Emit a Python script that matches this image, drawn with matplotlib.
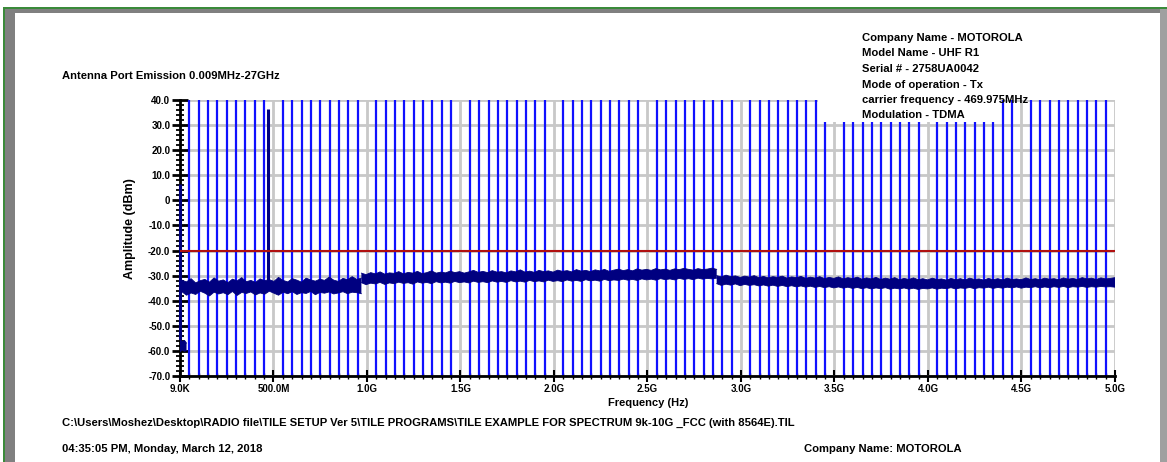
import numpy as np
import matplotlib
matplotlib.use("Agg")
from matplotlib import pyplot as plt
from matplotlib.patches import Rectangle
from matplotlib.ticker import FixedLocator, MultipleLocator

W, H = 1167, 462

plt.rcParams['font.family'] = ['Liberation Sans', 'DejaVu Sans']
plt.rcParams['font.weight'] = 'bold'

# ---- data (frequencies in GHz, levels in dBm) ----
title = "Antenna Port Emission 0.009MHz-27GHz"
info_lines = ["Company Name - MOTOROLA", "Model Name - UHF R1", "Serial # - 2758UA0042",
              "Mode of operation - Tx", "carrier frequency - 469.975MHz", "Modulation - TDMA"]
file_path = r"C:\Users\Moshez\Desktop\RADIO file\TILE SETUP Ver 5\TILE PROGRAMS\TILE EXAMPLE FOR SPECTRUM 9k-10G _FCC (with 8564E).TIL"
time_stamp = "04:35:05 PM, Monday, March 12, 2018"
company = "Company Name: MOTOROLA"

x_ticks = [0.000009, 0.5, 1.0, 1.5, 2.0, 2.5, 3.0, 3.5, 4.0, 4.5, 5.0]
x_tick_labels = ["9.0K", "500.0M", "1.0G", "1.5G", "2.0G", "2.5G", "3.0G", "3.5G", "4.0G", "4.5G", "5.0G"]
y_ticks = [40, 30, 20, 10, 0, -10, -20, -30, -40, -50, -60, -70]
y_tick_labels = ["40.0", "30.0", "20.0", "10.0", "0", "-10.0", "-20.0", "-30.0",
                 "-40.0", "-50.0", "-60.0", "-70.0"]

limit_dbm = -20.0
carrier_freq = 0.469975
carrier_peak = 36.4
start_freq = [0.000009, 0.012, 0.024, 0.035]
start_upper = [-55.2, -56.4, -55.8, -56.9]
start_lower = [-60.4, -59.6, -60.2, -59.8]
start_spike = 6.5

# vertical sweep marks (every 50 MHz between grid lines)
sweep_marks = [0.05, 0.10, 0.15, 0.20, 0.25, 0.30, 0.35, 0.40, 0.45,
               0.55, 0.60, 0.65, 0.70, 0.75, 0.80, 0.85, 0.90, 0.95,
               1.05, 1.10, 1.15, 1.20, 1.25, 1.30, 1.35, 1.40, 1.45,
               1.55, 1.60, 1.65, 1.70, 1.75, 1.80, 1.85, 1.90, 1.95,
               2.05, 2.10, 2.15, 2.20, 2.25, 2.30, 2.35, 2.40, 2.45,
               2.55, 2.60, 2.65, 2.70, 2.75, 2.80, 2.85, 2.90, 2.95,
               3.05, 3.10, 3.15, 3.20, 3.25, 3.30, 3.35, 3.40, 3.45,
               3.55, 3.60, 3.65, 3.70, 3.75, 3.80, 3.85, 3.90, 3.95,
               4.05, 4.10, 4.15, 4.20, 4.25, 4.30, 4.35, 4.40, 4.45,
               4.55, 4.60, 4.65, 4.70, 4.75, 4.80, 4.85, 4.90, 4.95]

# noise floor envelope, segment A (to ~0.97 GHz)
seg_a_freq = np.linspace(0.01, 0.97, 40)
seg_a_upper = [-31.8, -32.5, -31.2, -32.9, -32.0, -31.5, -32.6, -30.9, -32.2, -31.7,
               -32.8, -31.4, -32.1, -30.8, -32.4, -31.9, -32.7, -31.3, -32.0, -31.6,
               -32.3, -30.7, -31.9, -32.5, -31.2, -31.8, -32.6, -31.0, -31.7, -32.2,
               -31.4, -31.9, -30.6, -31.8, -32.3, -31.1, -31.6, -30.4, -31.5, -31.0]
seg_a_lower = [-36.4, -37.8, -36.9, -37.5, -36.2, -37.0, -38.1, -36.6, -37.3, -36.8,
               -37.6, -36.3, -37.9, -36.7, -37.1, -36.5, -37.7, -36.9, -37.4, -36.2,
               -37.0, -37.8, -36.6, -37.2, -36.4, -37.5, -36.8, -37.1, -36.3, -37.6,
               -36.7, -37.0, -36.5, -37.3, -36.9, -36.4, -37.2, -36.6, -36.8, -37.2]

# segment B (0.97 - 2.87 GHz)
seg_b_freq = np.linspace(0.97, 2.87, 77)
seg_b_upper = [-29.0, -29.6, -28.8, -29.3, -28.5, -29.4, -28.9, -29.1, -28.4, -29.3,
               -28.7, -29.0, -28.3, -29.2, -28.8, -28.1, -29.0, -28.6, -28.9, -28.2,
               -28.8, -28.4, -29.0, -28.5, -27.9, -28.7, -28.3, -28.8, -28.0, -28.6,
               -28.4, -28.9, -28.1, -28.5, -27.7, -28.6, -28.2, -28.7, -27.9, -28.4,
               -28.1, -28.6, -27.8, -28.3, -28.0, -28.5, -27.6, -28.2, -27.9, -28.4,
               -27.7, -28.1, -27.5, -28.3, -27.8, -27.4, -28.0, -27.6, -28.1, -27.3,
               -27.8, -27.5, -27.9, -27.2, -27.7, -27.4, -27.9, -27.3, -27.6, -27.1,
               -27.5, -27.8, -27.2, -27.6, -27.4, -27.0, -27.5]
seg_b_lower = [-32.8, -33.6, -33.0, -33.3, -32.7, -33.5, -32.9, -33.2, -32.6, -33.1,
               -32.8, -33.4, -32.5, -33.0, -32.7, -33.2, -32.4, -32.9, -32.6, -33.0,
               -32.3, -32.8, -32.5, -32.9, -32.2, -32.7, -32.4, -32.8, -32.1, -32.6,
               -32.3, -32.7, -32.0, -32.5, -32.2, -32.6, -31.9, -32.4, -32.1, -32.5,
               -31.8, -32.3, -32.0, -32.4, -31.7, -32.2, -31.9, -32.3, -31.6, -32.1,
               -31.8, -32.2, -31.5, -32.0, -31.7, -31.9, -31.4, -31.8, -31.5, -31.9,
               -31.3, -31.7, -31.4, -31.8, -31.2, -31.6, -31.3, -31.7, -31.1, -31.5,
               -31.2, -31.6, -31.0, -31.4, -31.1, -31.3, -31.0]

# segment C (2.87 - 5.0 GHz)
seg_c_freq = np.linspace(2.87, 5.0, 86)
seg_c_upper = [-30.0, -30.5, -29.8, -30.4, -30.1, -30.7, -30.2, -30.6, -30.0, -30.8,
               -30.3, -30.9, -30.4, -30.7, -30.2, -31.0, -30.5, -30.8, -30.3, -31.1,
               -30.6, -31.0, -30.4, -31.2, -30.7, -31.1, -30.5, -31.3, -30.8, -31.2,
               -30.6, -31.4, -30.9, -31.3, -30.7, -31.5, -31.0, -31.4, -30.8, -31.6,
               -31.1, -31.5, -30.9, -31.6, -31.2, -31.7, -31.0, -31.5, -31.3, -31.8,
               -31.1, -31.6, -31.2, -31.7, -31.0, -31.5, -31.3, -31.8, -31.1, -31.6,
               -31.2, -31.7, -31.0, -31.5, -31.3, -31.6, -30.9, -31.5, -31.2, -31.6,
               -31.0, -31.4, -31.2, -31.6, -30.9, -31.4, -31.1, -31.5, -30.8, -31.3,
               -31.0, -31.5, -30.9, -31.3, -31.1, -30.8]
seg_c_lower = [-33.2, -33.9, -33.4, -33.8, -33.3, -34.0, -33.5, -33.9, -33.6, -34.1,
               -33.7, -34.2, -33.8, -34.3, -33.9, -34.4, -34.0, -34.5, -34.1, -34.6,
               -34.2, -34.7, -34.3, -34.8, -34.4, -34.9, -34.5, -35.0, -34.6, -35.1,
               -34.7, -35.2, -34.8, -35.3, -34.9, -35.2, -34.8, -35.4, -35.0, -35.3,
               -34.9, -35.4, -35.0, -35.5, -35.1, -35.3, -34.9, -35.4, -35.0, -35.2,
               -34.8, -35.3, -34.9, -35.1, -34.7, -35.2, -34.8, -35.0, -34.6, -35.1,
               -34.7, -35.0, -34.6, -34.9, -34.5, -35.0, -34.6, -34.8, -34.4, -34.9,
               -34.5, -34.8, -34.4, -34.7, -34.3, -34.8, -34.4, -34.6, -34.3, -34.7,
               -34.4, -34.6, -34.3, -34.5, -34.4, -34.6]

TRACE = '#000080'


def fx(x):
    return x / W


def fy(y):
    return 1 - y / H


fig = plt.figure(figsize=(W / 100, H / 100), dpi=100)
fig.patch.set_facecolor('white')


def px_rect(x0, y0, x1, y1, color, z=1):
    fig.add_artist(Rectangle((fx(x0), fy(y1)), (x1 - x0) / W, (y1 - y0) / H,
                             transform=fig.transFigure, facecolor=color,
                             edgecolor='none', zorder=z))


# window frame
px_rect(3, 7, W, 9, '#3a8a3a')
px_rect(3, 7, 5, H, '#3a8a3a')
px_rect(5, 9, 15, H, '#808080')
px_rect(5, 9, 1160, 13, '#808080')
px_rect(1160, 9, W, H, '#a0a0a0')

ax = fig.add_axes([fx(180), fy(376), (1115 - 180) / W, (376 - 100) / H])
ax.set_xlim(x_ticks[0], x_ticks[-1])
ax.set_ylim(y_ticks[-1], y_ticks[0])

ax.set_axisbelow(True)
ax.grid(True, which='major', color='#c8c8c8', lw=2)
for side in ['top', 'right']:
    ax.spines[side].set_visible(False)
for side in ['left', 'bottom']:
    ax.spines[side].set_linewidth(2)
    ax.spines[side].set_color('black')

ax.vlines(sweep_marks, y_ticks[-1], y_ticks[0], color='#1010ff', lw=1.6, zorder=2)

for f, lo, hi in [(start_freq, start_lower, start_upper),
                  (seg_a_freq, seg_a_lower, seg_a_upper),
                  (seg_b_freq, seg_b_lower, seg_b_upper),
                  (seg_c_freq, seg_c_lower, seg_c_upper)]:
    ax.fill_between(f, lo, hi, facecolor=TRACE, edgecolor='none', lw=0, zorder=3)
    ax.plot(f, hi, color=TRACE, lw=0.6, zorder=3)
    ax.plot(f, lo, color=TRACE, lw=0.6, zorder=3)

ax.vlines([carrier_freq], seg_a_upper[19], carrier_peak, color=TRACE, lw=2.2, zorder=3)
ax.vlines([start_freq[0]], start_upper[0], start_spike, color=TRACE, lw=2.2, zorder=4,
          clip_on=False)

ax.axhline(limit_dbm, color='#b01010', lw=1.5, zorder=5)

ax.xaxis.set_major_locator(FixedLocator(x_ticks))
ax.set_xticklabels(x_tick_labels)
ax.xaxis.set_minor_locator(MultipleLocator(0.05))
ax.yaxis.set_major_locator(FixedLocator(y_ticks))
ax.set_yticklabels(y_tick_labels)
ax.yaxis.set_minor_locator(MultipleLocator(2))
ax.tick_params(axis='y', which='major', direction='inout', length=12, width=2, labelsize=7, pad=1)
ax.tick_params(axis='y', which='minor', direction='inout', length=6, width=1.3)
ax.tick_params(axis='x', which='major', direction='inout', length=9, width=1.5, labelsize=7, pad=1)
ax.tick_params(axis='x', which='minor', direction='inout', length=5, width=1)
for lab in ax.get_xticklabels() + ax.get_yticklabels():
    lab.set_fontweight('bold')

# labels and annotations
fig.text(fx(130), fy(229), "Amplitude (dBm)", rotation=90, ha='center', va='center', fontsize=9)
fig.text(fx(648), fy(403), "Frequency (Hz)", ha='center', va='center', fontsize=8)
fig.text(fx(62), fy(76), title, ha='left', va='center', fontsize=8.1)

# white box behind the info block
px_rect(818, 95, 1000, 121.5, 'white', z=2)
for i, line in enumerate(info_lines):
    fig.text(fx(862), fy(38 + 15.5 * i), line, ha='left', va='center', fontsize=8.1, zorder=3)

fig.text(fx(62), fy(423), file_path, ha='left', va='center', fontsize=8.1)
fig.text(fx(62), fy(449), time_stamp, ha='left', va='center', fontsize=8.1)
fig.text(fx(804), fy(449), company, ha='left', va='center', fontsize=8.1)

fig.savefig("out.png", dpi=100)
